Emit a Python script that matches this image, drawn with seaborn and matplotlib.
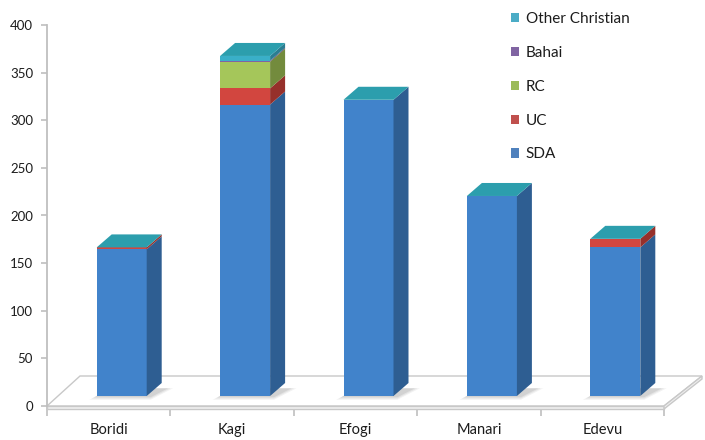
import numpy as np
import pandas as pd
import matplotlib
matplotlib.use("Agg")
import matplotlib.pyplot as plt
import seaborn as sns
from matplotlib.patches import Polygon, Patch

# ---------------- data ----------------
villages = ["Boridi", "Kagi", "Efogi", "Manari", "Edevu"]
series_names = ["SDA", "UC", "RC", "Bahai", "Other Christian"]
sda = [154, 306, 311, 210, 156]
uc = [2, 17, 0, 0, 9]
rc = [0, 28, 0, 0, 0]
bahai = [0, 1, 0, 0, 0]
other = [0, 5, 0, 0, 0]
y_ticks = [0, 50, 100, 150, 200, 250, 300, 350, 400]

# ---------------- styles ----------------
front_col = {"SDA": "#4183CB", "UC": "#D2463F", "RC": "#A5C65A",
             "Bahai": "#8064A2", "Other Christian": "#3AAFC8"}
side_col = {"SDA": "#2E5E92", "UC": "#96302B", "RC": "#738B3D",
            "Bahai": "#5A4673", "Other Christian": "#2A7E91"}
legend_col = {"SDA": "#4F81BD", "UC": "#C0504D", "RC": "#9BBB59",
              "Bahai": "#8064A2", "Other Christian": "#4BACC6"}
top_col = "#2C9EAD"
text_col = "#1c1c1c"
axis_col = "#BFBFBF"

sns.set_style("white")
plt.rcParams["font.family"] = ["Lato", "DejaVu Sans"]

W, H = 705, 440
fig = plt.figure(figsize=(W / 100, H / 100), dpi=100)

# plot frame in pixels (from top-left)
x0, x1 = 47, 664
y0, y1 = 406, 25
ppx = (x1 - x0) / 5.0
ppy = (y0 - y1) / 400.0

ax = fig.add_axes([x0 / W, (H - y0) / H, (x1 - x0) / W, (y0 - y1) / H])
ax.set_xlim(-0.5, 4.5)
ax.set_ylim(0, 400)
ax.patch.set_alpha(0)

# floor (3D slab)
fdx_l, fdx_r, fdy = 33 / ppx, 38 / ppx, 30 / ppy
thick = 3 / ppy
floor_top = Polygon([(-0.5, 0), (4.5, 0), (4.5 + fdx_r, fdy), (-0.5 + fdx_l, fdy)],
                    closed=True, facecolor="white", edgecolor="#C8C8C8", lw=1.0,
                    clip_on=False, zorder=1)
floor_front = Polygon([(-0.5, -thick), (4.5, -thick), (4.5, 0), (-0.5, 0)],
                      closed=True, facecolor="#F0F0F0", edgecolor="#C8C8C8", lw=1.0,
                      clip_on=False, zorder=1)
floor_side = Polygon([(4.5, -thick), (4.5 + fdx_r, fdy - thick), (4.5 + fdx_r, fdy), (4.5, 0)],
                     closed=True, facecolor="#F0F0F0", edgecolor="#C8C8C8", lw=1.0,
                     clip_on=False, zorder=1)
for p in (floor_top, floor_front, floor_side):
    ax.add_patch(p)

# axes styling
for s in ["top", "right", "bottom"]:
    ax.spines[s].set_visible(False)
ax.spines["left"].set_color(axis_col)
ax.spines["left"].set_linewidth(1.3)
ax.set_yticks(y_ticks)
ax.set_yticklabels([str(v) for v in y_ticks], fontsize=9.5, color=text_col)
ax.tick_params(axis="y", which="major", length=4, color=axis_col, width=1.2, pad=6, left=True)
ax.set_xticks(range(len(villages)))
ax.set_xticklabels(villages, fontsize=10.5, color=text_col)
ax.set_xticks(np.arange(-0.5, 5.0, 1.0), minor=True)
ax.tick_params(axis="x", which="major", length=0, pad=12, bottom=True)
ax.tick_params(axis="x", which="minor", length=7, color=axis_col, width=1.2, bottom=True)
ax.set_xlabel("")
ax.set_ylabel("")

# ---------------- bars (shifted into depth) ----------------
bdx, bdy = 13, 10
axb = fig.add_axes([(x0 + bdx) / W, (H - y0 + bdy) / H, (x1 - x0) / W, (y0 - y1) / H])
axb.set_xlim(-0.5, 4.5)
axb.set_ylim(0, 400)
axb.axis("off")
axb.patch.set_alpha(0)

df = pd.DataFrame({"Village": villages, "SDA": sda, "UC": uc, "RC": rc,
                   "Bahai": bahai, "Other Christian": other})
cum = df[series_names].cumsum(axis=1)
bw = 50 / ppx
for name in reversed(series_names):
    sns.barplot(x=df["Village"], y=cum[name], order=villages, color=front_col[name],
                saturation=1, width=bw, ax=axb, linewidth=0, edgecolor="none", zorder=3)
axb.set_xlim(-0.5, 4.5)
axb.set_ylim(0, 400)
axb.axis("off")

sdx, sdy = 15 / ppx, 13 / ppy
bars = axb.patches[-len(villages):]
for i, bar in enumerate(bars):
    xl = bar.get_x()
    xr = xl + bar.get_width()
    # soft shadow on the floor
    for k, a in enumerate([0.05, 0.06, 0.07]):
        g = (3 - k) * 2.5
        shp = Polygon([(xl - g / ppx, -g / ppy * 0.5), (xr + 4 / ppx, -g / ppy * 0.5),
                       (xr + sdx + (g + 4) / ppx, sdy * 0.6),
                       (xl + sdx, sdy * 0.6)],
                      closed=True, facecolor="#000000", alpha=a, edgecolor="none",
                      zorder=1, clip_on=False)
        axb.add_patch(shp)
    prev = 0.0
    for name in series_names:
        top = cum.loc[i, name]
        if top > prev:
            poly = Polygon([(xr, prev), (xr + sdx, prev + sdy), (xr + sdx, top + sdy), (xr, top)],
                           closed=True, facecolor=side_col[name], edgecolor="none",
                           zorder=3, clip_on=False)
            axb.add_patch(poly)
        prev = top
    total = prev
    cap = Polygon([(xl, total), (xr, total), (xr + sdx, total + sdy), (xl + sdx, total + sdy)],
                  closed=True, facecolor=top_col, edgecolor="none", zorder=3, clip_on=False)
    axb.add_patch(cap)

# ---------------- legend ----------------
handles = [Patch(facecolor=legend_col[n], edgecolor="none") for n in reversed(series_names)]
labels = list(reversed(series_names))
leg = fig.legend(handles, labels, loc="upper left", bbox_to_anchor=(511 / W, 1 - 12 / H),
                 frameon=False, fontsize=11, labelspacing=1.3, handlelength=0.55,
                 handleheight=0.55, handletextpad=0.4, borderpad=0, borderaxespad=0)
for t in leg.get_texts():
    t.set_color(text_col)

fig.savefig("out.png", dpi=100)
